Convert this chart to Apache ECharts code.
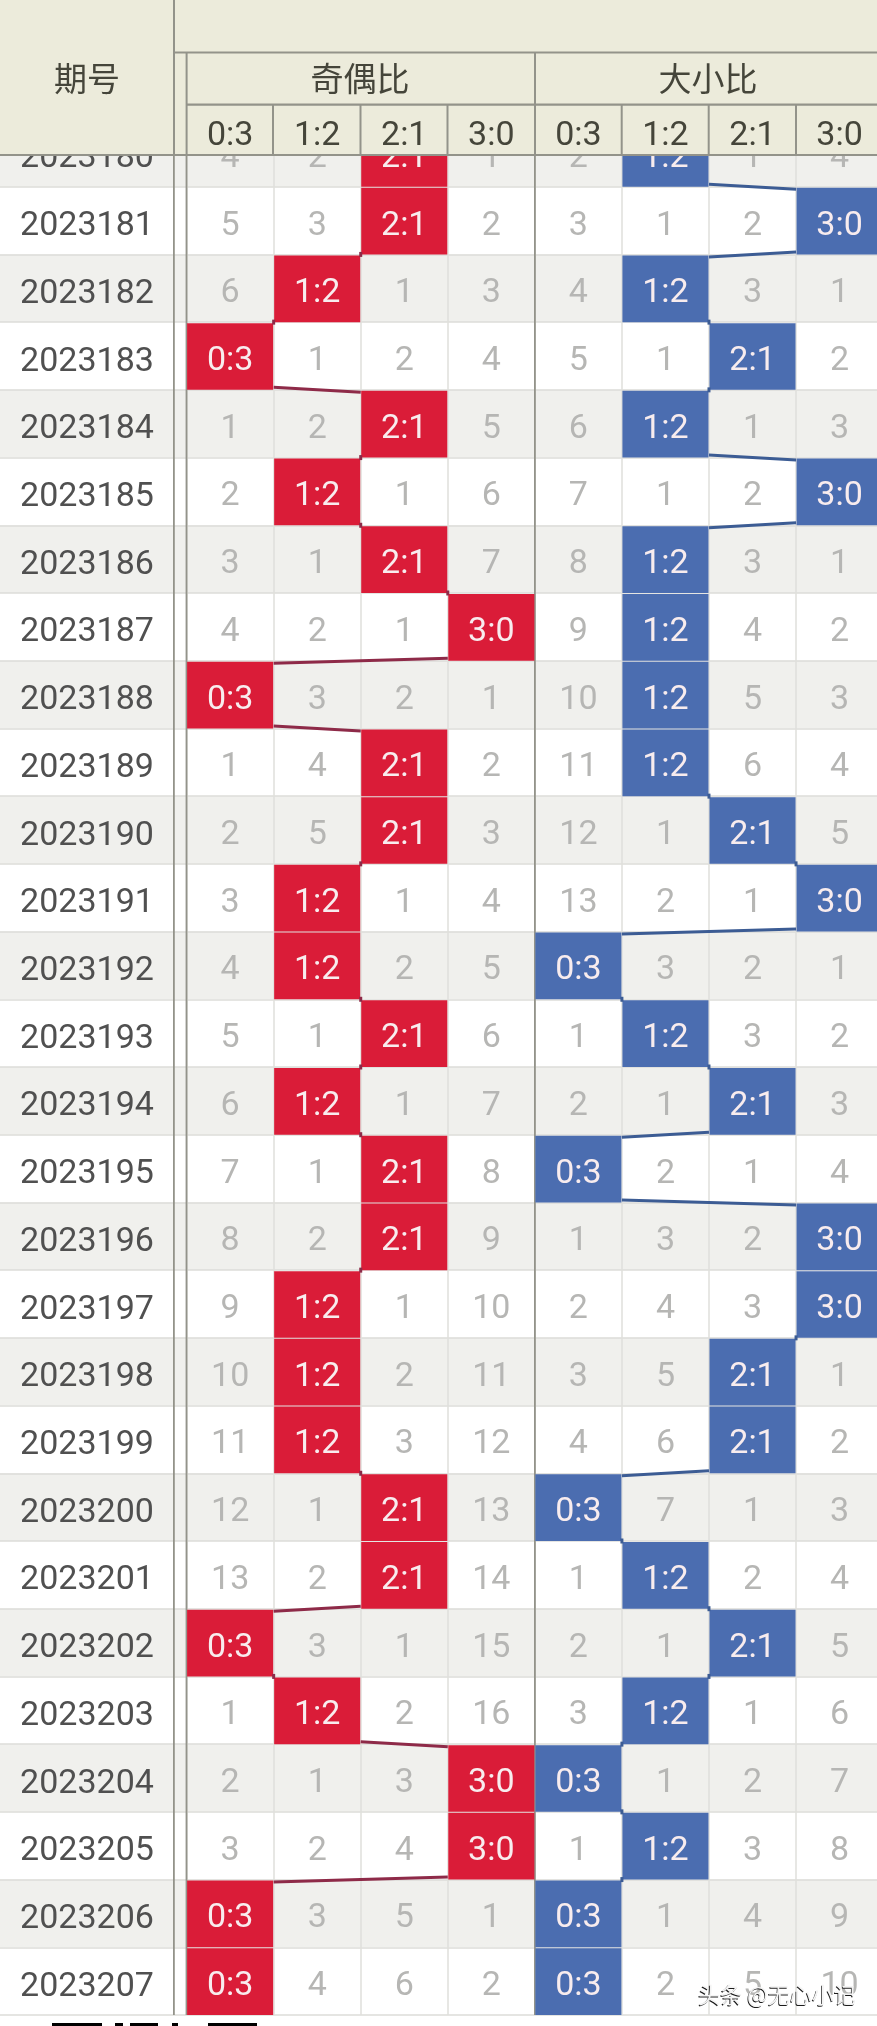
<!DOCTYPE html>
<html><head><meta charset="utf-8">
<style>html,body{margin:0;padding:0;background:#fff;overflow:hidden;width:877px;height:2026px}#c{width:884px;height:2026px}</style>
<script src="https://cdn.jsdelivr.net/npm/echarts@6/dist/echarts.min.js"></script>
</head><body><div id="c"></div>
<script>
const periods = ['2023180','2023181','2023182','2023183','2023184','2023185','2023186','2023187','2023188','2023189','2023190','2023191','2023192','2023193','2023194','2023195','2023196','2023197','2023198','2023199','2023200','2023201','2023202','2023203','2023204','2023205','2023206','2023207'];
const ratios = ['0:3','1:2','2:1','3:0','0:3','1:2','2:1','3:0'];
const groupNames = ['奇偶比','大小比'];
const idHeader = '期号';
const watermark = '头条 @无心小记';
// 0 = the ratio was drawn in that period (coloured cell); otherwise the miss count
const oe03 = [4,5,6,0,1,2,3,4,0,1,2,3,4,5,6,7,8,9,10,11,12,13,0,1,2,3,0,0];
const oe12 = [2,3,0,1,2,0,1,2,3,4,5,0,0,1,0,1,2,0,0,0,1,2,3,0,1,2,3,4];
const oe21 = [0,0,1,2,0,1,0,1,2,0,0,1,2,0,1,0,0,1,2,3,0,0,1,2,3,4,5,6];
const oe30 = [1,2,3,4,5,6,7,0,1,2,3,4,5,6,7,8,9,10,11,12,13,14,15,16,0,0,1,2];
const bs03 = [2,3,4,5,6,7,8,9,10,11,12,13,0,1,2,0,1,2,3,4,0,1,2,3,0,1,0,0];
const bs12 = [0,1,0,1,0,1,0,0,0,0,1,2,3,0,1,2,3,4,5,6,7,0,1,0,1,0,1,2];
const bs21 = [1,2,3,0,1,2,3,4,5,6,0,1,2,3,0,1,2,3,0,0,1,2,0,1,2,3,4,5];
const bs30 = [4,0,1,2,3,0,1,2,3,4,5,0,1,2,3,4,0,0,1,2,3,4,5,6,7,8,9,10];

const RED='#da1c38', BLUE='#4b6db0', RED_LINE='#8e2a48', BLUE_LINE='#3c5c94';
const HEAD='#ecebdb', RULE='#93938a', FONT='Roboto,"Noto Sans CJK SC",sans-serif';
const columns=[oe03,oe12,oe21,oe30,bs03,bs12,bs21,bs30];

const cells=[];
columns.forEach((col,c)=>col.forEach((v,r)=>cells.push([c,r,v])));
function links(first,last){
  const hits=periods.map((_,r)=>{for(let c=first;c<=last;c++) if(columns[c][r]===0) return c;});
  const out=[];
  for(let r=1;r<hits.length;r++) if(hits[r]!==hits[r-1]) out.push([hits[r-1],r-1,hits[r],r]);
  return out;
}
function renderCell(p,api){
  const c=api.value(0),r=api.value(1),v=api.value(2);
  const pt=api.coord([c,r]),s=api.size([1,1]);
  const kids=[];
  if(v===0) kids.push({type:'rect',shape:{x:pt[0]-s[0]/2+0.5,y:pt[1]-s[1]/2+1,width:s[0]-1,height:s[1]-1},
    style:{fill:c<4?RED:BLUE}});
  kids.push({type:'text',style:{x:pt[0],y:pt[1]+5.5,text:v===0?ratios[c]:String(v),align:'center',verticalAlign:'middle',
    fill:v===0?'#f8ecee':'#b6b6b4',font:'34px '+FONT}});
  return {type:'group',children:kids};
}
function renderLink(color){
  return function(p,api){
    const c0=api.value(0),r0=api.value(1),c1=api.value(2),r1=api.value(3);
    const a=api.coord([c0,r0]),b=api.coord([c1,r1]),s=api.size([1,1]);
    const dir=c1>c0?1:-1;
    const y=(a[1]+b[1])/2;
    return {type:'line',shape:{x1:a[0]+dir*s[0]/2,y1:y-2.5,x2:b[0]-dir*s[0]/2,y2:y+2.5},
      style:{stroke:color,lineWidth:3}};
  };
}
function bar(x,y,w,h,fill,z){return {type:'rect',z:z,shape:{x,y,width:w,height:h},style:{fill}};}
function htext(t,x,y){return {type:'text',z:7,style:{x,y,text:t,align:'center',verticalAlign:'middle',fill:'#45453a',font:'33px '+FONT}};}
function mark(x,y,fill,z){return {type:'text',z:z,style:{x,y,text:watermark,align:'center',verticalAlign:'middle',fill,font:'22px "Noto Sans CJK SC",sans-serif'}};}

const TICKS=[273,360.5,447.5,621.7,708.7,796];
const chart=echarts.init(document.getElementById('c'),null,{renderer:'canvas'});
chart.setOption({
  animation:false,backgroundColor:'#fff',
  grid:[{left:0,top:119,width:877,height:1896},{left:186.6,top:119,width:696.5,height:1896},{left:0,top:125,width:177,height:1896}],
  xAxis:[
    {gridIndex:0,type:'value',min:0,max:1,show:false},
    {gridIndex:1,type:'category',data:ratios,axisLabel:{show:false},axisTick:{show:false},axisLine:{show:false},
      splitLine:{show:true,interval:0,lineStyle:{color:'#dfdfdb',width:1.5}}},
    {gridIndex:1,type:'category',data:ratios,position:'top',z:10,axisTick:{show:false},axisLine:{show:false},splitLine:{show:false},
      axisLabel:{inside:true,margin:17,interval:0,verticalAlign:'middle',color:'#45453a',fontFamily:FONT,fontSize:34}},
    {gridIndex:2,type:'value',min:0,max:1,show:false}
  ],
  yAxis:[
    {gridIndex:0,type:'category',data:periods,inverse:true,axisTick:{show:false},axisLine:{show:false},axisLabel:{show:false},
      splitArea:{show:true,interval:0,areaStyle:{color:['#f0f0ed','#ffffff']}},
      splitLine:{show:true,interval:0,lineStyle:{color:'#dcdcd8',width:1.5}}},
    {gridIndex:1,type:'category',data:periods,inverse:true,show:false},
    {gridIndex:2,type:'category',data:periods,inverse:true,z:1,axisTick:{show:false},axisLine:{show:false},splitLine:{show:false},
      axisLabel:{inside:true,margin:87,interval:0,align:'center',color:'#505050',fontFamily:FONT,fontSize:34}}
  ],
  series:[
    {type:'custom',name:'奇偶比连线',xAxisIndex:1,yAxisIndex:1,z:3,renderItem:renderLink(RED_LINE),data:links(0,3)},
    {type:'custom',name:'大小比连线',xAxisIndex:1,yAxisIndex:1,z:3,renderItem:renderLink(BLUE_LINE),data:links(4,7)},
    {type:'custom',name:'遗漏',xAxisIndex:1,yAxisIndex:1,z:2,renderItem:renderCell,data:cells}
  ],
  graphic:{elements:[
    bar(173,0,1.8,2015,RULE,1),
    bar(185.6,52,1.8,1963,RULE,1),
    bar(534,155,1.8,1860,RULE,1),
    bar(0,0,884,155,HEAD,5),
    bar(173,0,2,155,RULE,6),
    bar(173,51.5,711,2,RULE,6),
    bar(186,103.5,698,2.2,RULE,6),
    bar(0,154,884,2,RULE,6),
    bar(185.6,52,2,103,RULE,6),
    bar(534,52,2,103,RULE,6),
    ...TICKS.map(x=>bar(x-1,104,2,51,RULE,6)),
    htext(idHeader,87,82.5),
    htext(groupNames[0],360,82.5),
    htext(groupNames[1],708,82.5),
    mark(776.2,1995.8,'#1c1c1c',8),
    mark(777,1995,'#f4f4f4',9),
    bar(52,2023,50,3,'#000',8),bar(115,2023,8,3,'#000',8),bar(130,2023,28,3,'#000',8),
    bar(172,2023,6,3,'#000',8),bar(208,2023,49,3,'#000',8)
  ]}
});
</script></body></html>
